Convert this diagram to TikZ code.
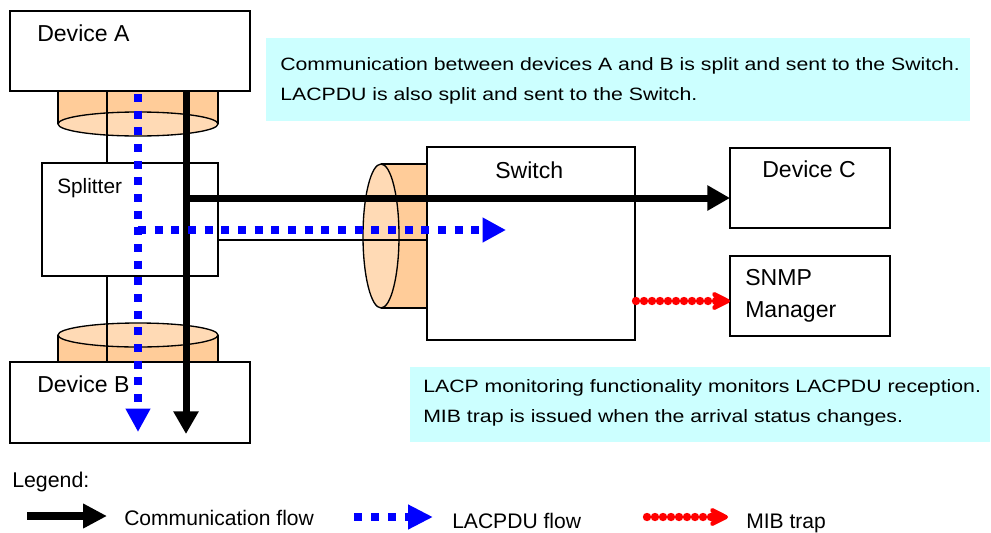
\documentclass[tikz,border=0pt]{standalone}
\usepackage{fontspec}
\setmainfont{Liberation Sans}
\newfontfamily\notefont{Liberation Sans}[FakeStretch=1.19]
\usetikzlibrary{arrows.meta}
\definecolor{cylbody}{HTML}{FFCC99}
\definecolor{cylface}{HTML}{FFDAB5}
\definecolor{notecyan}{HTML}{CCFFFF}
\begin{document}
\begin{tikzpicture}[x=0.75pt,y=-0.75pt,
  box/.style={draw=black,line width=1pt,fill=white,anchor=north west,inner sep=0pt,outer sep=0pt},
  note/.style={fill=notecyan,anchor=north west,inner sep=0pt,outer sep=0pt},
  lbl/.style={anchor=base west,inner sep=0pt,font=\fontsize{17.3}{20}\selectfont},
  ntxt/.style={anchor=base west,inner sep=0pt,font=\notefont\fontsize{13.4}{16}\selectfont},
  legtxt/.style={anchor=base west,inner sep=0pt,font=\fontsize{15.8}{19}\selectfont},
  thin/.style={draw=black,line width=1pt},
  comm/.style={draw=black,line width=5.25pt,-{Triangle[length=17pt,width=18pt]}},
  lacp/.style={draw=blue,line width=5.6pt,dash pattern=on 6pt off 6.5pt,-{Triangle[length=17.5pt,width=17.5pt]}},
  mib/.style={draw=red,line width=6.3pt,line cap=round,dash pattern=on 0pt off 6pt,-{Stealth[length=18pt,width=18pt,inset=6pt,round=false]}}
]
\fill[white] (0,0) rectangle (991,532);
\useasboundingbox (0,0) rectangle (991,532);

% notes
\node[note,minimum width=528pt,minimum height=62.25pt] (note1) at (266,38) {};
\node[note,minimum width=435pt,minimum height=56.25pt] (note2) at (410,367) {};
\node[ntxt] (n1a) at (280,70) {Communication between devices A and B is split and sent to the Switch.};
\node[ntxt] (n1b) at (280,100) {LACPDU is also split and sent to the Switch.};
\node[ntxt] (n2a) at (423,392) {LACP monitoring functionality monitors LACPDU reception.};
\node[ntxt] (n2b) at (423,422) {MIB trap is issued when the arrival status changes.};

% cylinder A
\fill[cylbody] (58,91) rectangle (218,124);
\draw[thin] (58,91) -- (58,124);
\draw[thin] (218,91) -- (218,124);
\filldraw[thin,fill=cylface] (138,124) ellipse [x radius=80, y radius=12];
% cylinder B
\fill[cylbody] (58,335) rectangle (218,362);
\draw[thin] (58,335) -- (58,362);
\draw[thin] (218,335) -- (218,362);
\filldraw[thin,fill=cylface] (138,335) ellipse [x radius=80, y radius=12];
% switch cylinder
\fill[cylbody] (381,164) rectangle (427,308);
\draw[thin] (381,164) -- (427,164);
\draw[thin] (381,308) -- (427,308);
\filldraw[thin,fill=cylface] (381,236) ellipse [x radius=18, y radius=72];

% boxes
\node[box,minimum width=180pt,minimum height=60pt] (devA) at (10,11) {};
\node[box,minimum width=132pt,minimum height=84.75pt] (split) at (42,163) {};
\node[box,minimum width=180pt,minimum height=60.75pt] (devB) at (10,362) {};
\node[box,minimum width=156pt,minimum height=144.75pt] (switch) at (427,147) {};
\node[box,minimum width=120pt,minimum height=60pt] (devC) at (730,148) {};
\node[box,minimum width=120pt,minimum height=60pt] (snmp) at (730,256) {};

% labels
\node[lbl] (lA) at (37,41) {Device A};
\node[lbl] (lB) at (37,392) {Device B};
\node[anchor=base west,inner sep=0pt,font=\fontsize{15.6}{18}\selectfont] (lS) at (57,193) {Splitter};
\node[lbl] (lSw) at (495,178) {Switch};
\node[lbl] (lC) at (762,177) {Device C};
\node[lbl] (lM1) at (745,285) {SNMP};
\node[lbl] (lM2) at (745,317) {Manager};

% thin cables
\coordinate (cA) at (107,91);
\coordinate (cS1) at (107,163);
\coordinate (cS2) at (107,276);
\coordinate (cB) at (107,362);
\draw[thin] (cA) -- (cS1);
\draw[thin] (cS2) -- (cB);
\coordinate (hS) at (218,240);
\coordinate (hW) at (427,240);
\draw[thin] (hS) -- (hW);

% flows
\coordinate (bTop) at (186,91);
\coordinate (bBot) at (186,434);
\coordinate (bJoin) at (183.5,198);
\coordinate (bC) at (730,198);
\draw[comm] (bTop) -- (bBot);
\draw[comm] (bJoin) -- (bC);
\coordinate (uTop) at (138,94);
\coordinate (uBot) at (138,432);
\coordinate (uJoin) at (138,230);
\coordinate (uEnd) at (506,230);
\draw[lacp] (uTop) -- (uBot);
\draw[lacp] (uJoin) -- (uEnd);
\coordinate (rS) at (636,301);
\coordinate (rE) at (730,301);
\draw[mib] (rS) -- (rE);

% legend
\node[anchor=base west,inner sep=0pt,font=\fontsize{16}{19}\selectfont] (leg) at (12,487) {Legend:};
\coordinate (l1s) at (27,516);
\coordinate (l1e) at (107,516);
\draw[comm,line width=6pt,-{Triangle[length=18pt,width=17.5pt]}] (l1s) -- (l1e);
\node[legtxt] (lt1) at (124,525) {Communication flow};
\coordinate (l2s) at (354,517);
\coordinate (l2e) at (433,517);
\draw[lacp,line width=6pt,dash pattern=on 6pt off 6.75pt,-{Triangle[length=18.75pt,width=17.5pt]}] (l2s) -- (l2e);
\node[legtxt] (lt2) at (452,528) {LACPDU flow};
\coordinate (l3s) at (647,517);
\coordinate (l3e) at (728,517);
\draw[mib] (l3s) -- (l3e);
\node[legtxt] (lt3) at (746,528) {MIB trap};
\end{tikzpicture}
\end{document}
